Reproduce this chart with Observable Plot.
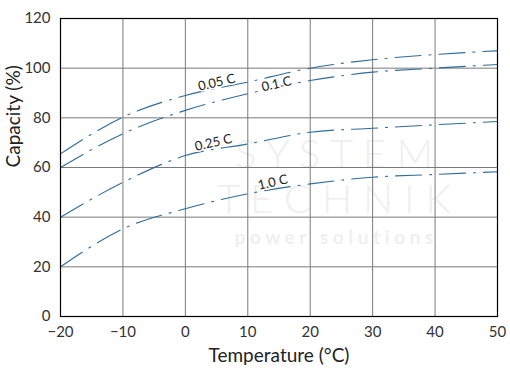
<!DOCTYPE html>
<html>
<head>
<meta charset="utf-8">
<script src="https://cdn.jsdelivr.net/npm/d3@7"></script>
<script src="https://cdn.jsdelivr.net/npm/@observablehq/plot@0.6"></script>
<style>
  html, body { margin: 0; padding: 0; background: #fff; }
  #chart { width: 510px; height: 371px; }
</style>
</head>
<body>
<div id="chart"></div>
<script>
const temperatures = [-20, -10, 0, 10, 20, 30, 40, 50];
const cap005 = [65.5, 80.3, 89, 94.4, 100, 103.4, 105.5, 107];
const cap01  = [60, 73.6, 83, 89.7, 95, 98.4, 100, 101.5];
const cap025 = [40, 54, 64.8, 69.5, 74.2, 75.8, 77.2, 78.5];
const cap10  = [20, 35.3, 43.4, 49.4, 53.4, 56.1, 57.2, 58.3];

const seriesNames = ["0.05 C", "0.1 C", "0.25 C", "1.0 C"];
const seriesValues = [cap005, cap01, cap025, cap10];
const labelX = [5, 14.6, 4.5, 14];
const labelY = [94.2, 93.6, 70, 54];

const xTicks = [-20, -10, 0, 10, 20, 30, 40, 50];
const yTicks = [0, 20, 40, 60, 80, 100, 120];
const watermarkTop = "S Y S T E M";
const watermarkMid = "T E C H N I K";
const watermarkBottom = "p o w e r   s o l u t i o n s";

const rows = [];
seriesNames.forEach((name, i) => {
  temperatures.forEach((t, j) => rows.push({series: name, t, v: seriesValues[i][j]}));
});
const labels = seriesNames.map((name, i) => ({name, x: labelX[i], y: labelY[i]}));

const font = "Lato, 'Open Sans', sans-serif";
const blue = "#2e6c9a";
const wm = "#efefef";

const chart = Plot.plot({
  width: 510,
  height: 371,
  marginLeft: 60,
  marginRight: 13,
  marginTop: 18,
  marginBottom: 55,
  style: {fontFamily: font, background: "#fff", color: "#333"},
  x: {domain: [-20, 50], ticks: xTicks},
  y: {domain: [0, 120], ticks: yTicks},
  marks: [
    Plot.text([watermarkTop], {frameAnchor: "middle", dx: 55, dy: -12, fontSize: 40, fill: wm, fontWeight: 300}),
    Plot.text([watermarkMid], {frameAnchor: "middle", dx: 55, dy: 33, fontSize: 40, fill: wm, fontWeight: 300}),
    Plot.text([watermarkBottom], {frameAnchor: "middle", dx: 55, dy: 70, fontSize: 19, fill: wm, fontWeight: 700}),
    Plot.gridX(xTicks, {stroke: "#7a7a7a", strokeOpacity: 1, strokeWidth: 1}),
    Plot.gridY(yTicks, {stroke: "#7a7a7a", strokeOpacity: 1, strokeWidth: 1}),
    Plot.line(rows, {x: "t", y: "v", z: "series", stroke: blue, strokeWidth: 1.1,
      curve: "monotone-x", strokeDasharray: "26,8,2,8"}),
    Plot.text(labels, {x: "x", y: "y", text: "name", rotate: -13, fontSize: 13,
      fill: "#222", stroke: "white", strokeWidth: 3, paintOrder: "stroke"}),
    Plot.frame({stroke: "#000", strokeWidth: 1.2}),
    Plot.axisX(xTicks, {tickSize: 0, tickPadding: 10, fontSize: 15, fill: "#333", label: null}),
    Plot.axisY(yTicks, {tickSize: 0, tickPadding: 10, fontSize: 15, fill: "#333", label: null}),
    Plot.text(["Temperature (°C)"], {frameAnchor: "bottom", dy: 45, fontSize: 19, fill: "#222"}),
    Plot.text(["Capacity (%)"], {frameAnchor: "left", dx: -47, rotate: -90, fontSize: 19, fill: "#222"})
  ]
});
document.getElementById("chart").appendChild(chart);
</script>
</body>
</html>
